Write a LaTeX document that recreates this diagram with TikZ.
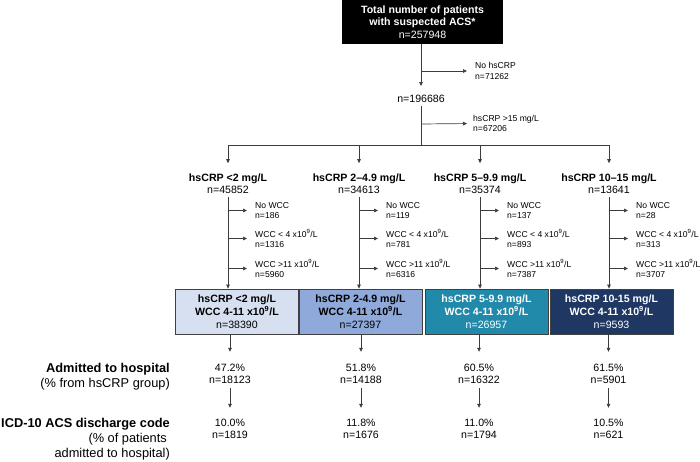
\documentclass[tikz,border=0pt]{standalone}
\usepackage{fontspec}
\setmainfont{Liberation Sans}
\usetikzlibrary{arrows.meta}
\definecolor{lineg}{HTML}{3C3C3C}
\definecolor{boxg}{HTML}{404040}
\definecolor{cA}{HTML}{D7E0F1}
\definecolor{cB}{HTML}{8EA9DA}
\definecolor{cC}{HTML}{2189A9}
\definecolor{cD}{HTML}{1F3763}
\begin{document}
\begin{tikzpicture}[x=1pt,y=-1pt,
  conn/.style={draw=lineg, line width=0.7pt},
  arr/.style={conn, -{Triangle[length=4pt,width=3.6pt]}},
  txt/.style={inner sep=0pt, font=\fontsize{10.6}{12.5}\selectfont, align=center},
  side/.style={inner sep=0pt, font=\fontsize{8.6}{10.5}\selectfont, align=left, anchor=west},
  grp/.style={draw=boxg, line width=0.8pt, minimum width=123pt, minimum height=45pt, inner sep=0pt, align=center, font=\fontsize{10.6}{13}\selectfont},
  lab/.style={inner sep=0pt, anchor=east, align=right, font=\fontsize{12.8}{15}\selectfont}
]
\useasboundingbox (0,0) rectangle (700,462);

\node[fill=black, text=white, minimum width=161pt, minimum height=44pt, inner sep=0pt, align=center, font=\fontsize{10.6}{12.5}\selectfont] (T) at (422.5,22) {\textbf{Total number of patients}\\\textbf{with suspected ACS*}\\n=257948};

\coordinate (s1) at (421,71);
\coordinate (s2) at (421,124);
\coordinate (h0) at (421,145);
\node[txt] (N2) at (421,99) {n=196686};
\node[side] (X1) at (475,71) {No hsCRP\\n=71262};
\node[side] (X2) at (473,123.5) {hsCRP >15 mg/L\\n=67206};
\draw[arr, shorten >=9pt] (T.south -| N2) -- (N2.north);
\draw[arr, shorten >=8pt] (s1) -- (X1.west);
\draw[conn, shorten <=3pt] (N2.south) -- (h0);
\draw[arr, shorten >=6pt] (s2) -- (X2.west);

\foreach \i/\cx/\bx/\px/\la/\na/\sa/\sb/\sc/\fc/\tc/\bl/\nb/\pa/\pn/\qa/\qn in {
  1/228/237/230/{hsCRP <2 mg/L}/45852/186/1316/5960/cA/black/{hsCRP <2 mg/L}/38390/47.2/18123/10.0/1819,
  2/359/360.5/361/{hsCRP 2–4.9 mg/L}/34613/119/781/6316/cB/black/{hsCRP 2-4.9 mg/L}/27397/51.8/14188/11.8/1676,
  3/480/486.5/479/{hsCRP 5–9.9 mg/L}/35374/137/893/7387/cC/white/{hsCRP 5-9.9 mg/L}/26957/60.5/16322/11.0/1794,
  4/609/611.5/608.5/{hsCRP 10–15 mg/L}/13641/28/313/3707/cD/white/{hsCRP 10-15 mg/L}/9593/61.5/5901/10.5/621} {
  \coordinate (h\i) at (\cx,145);
  \node[txt] (L\i) at (\cx,183.5) {\textbf{\la}\\n=\na};
  \draw[arr, shorten >=10pt] (h\i) -- (L\i.north);
  \node[grp, fill=\fc, text=\tc] (B\i) at (\bx,311.5) {\textbf{\bl}\\\textbf{WCC 4-11 x10\textsuperscript{9}/L}\\n=\nb};
  \draw[arr, shorten <=3.5pt] (L\i.south) -- (B\i.north -| L\i.south);
  \foreach \j/\y/\st/\nn in {a/210.5/{No WCC}/\sa, b/238.5/{WCC < 4 x10\textsuperscript{9}/L}/\sb, c/268.5/{WCC >11 x10\textsuperscript{9}/L}/\sc} {
    \coordinate (w\i\j) at (\cx,\y);
    \node[side] (S\i\j) at ({\cx+27},\y) {\st\\n=\nn};
    \draw[arr, shorten >=8pt] (w\i\j) -- (S\i\j.west);
  }
  \node[txt] (P\i) at (\px,374) {\pa\%\\n=\pn};
  \draw[arr, shorten >=12pt] (B\i.south -| P\i) -- (P\i.north);
  \node[txt] (Q\i) at (\px,429) {\qa\%\\n=\qn};
  \draw[arr, shorten <=4pt, shorten >=11pt] (P\i.south) -- (Q\i.north);
}
\draw[conn] (h1) -- (h4);

\node[lab] (A) at (170,376.5) {\textbf{Admitted to hospital}\\(\% from hsCRP group)};
\node[lab] (I) at (170,439.5) {\textbf{ICD-10 ACS discharge code}\\(\% of patients\kern3pt\\admitted to hospital)};
\end{tikzpicture}
\end{document}
